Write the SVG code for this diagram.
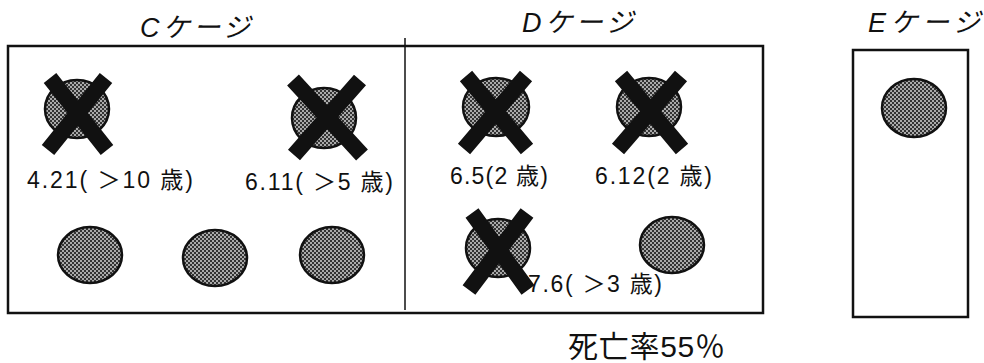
<svg xmlns="http://www.w3.org/2000/svg" width="984" height="363" viewBox="0 0 984 363">
<style>
.box{fill:none;stroke:#111;stroke-width:2.5}
.div{stroke:#111;stroke-width:1.5}
.fish{fill:url(#dots);stroke:#111;stroke-width:2.5}
.x{stroke:#111;stroke-width:16;stroke-linecap:butt;fill:none}
.t{font-family:"Liberation Sans","Noto Sans CJK JP",sans-serif;font-size:23px;fill:#111}
.title{font-family:"Liberation Sans","Noto Sans CJK JP",sans-serif;font-size:27px;font-style:italic;fill:#111}
.big{font-family:"Liberation Sans","Noto Sans CJK JP",sans-serif;font-size:30px;fill:#111}
</style>
<defs>
<pattern id="dots" width="4" height="4" patternUnits="userSpaceOnUse">
<rect width="4" height="4" fill="#333"/>
<rect x="0" y="0" width="2" height="2" fill="#aaa"/>
<rect x="2" y="2" width="2" height="2" fill="#aaa"/>
</pattern>
</defs>
<rect fill="#fff" width="984" height="363"/>
<g id="cages">
<rect class="box" x="8" y="46" width="755" height="267"/>
<line class="div" x1="405" y1="38" x2="405" y2="310"/>
<rect class="box" x="853" y="50" width="115" height="267"/>
</g>
<g id="titles">
<text class="title" x="140" y="37" textLength="110" lengthAdjust="spacing">Cケージ</text>
<text class="title" x="522" y="32" textLength="111" lengthAdjust="spacing">Dケージ</text>
<text class="title" x="868" y="32" textLength="112" lengthAdjust="spacing">Eケージ</text>
</g>
<g id="c1"><ellipse class="fish" cx="77" cy="109" rx="32" ry="29"/><path class="x" d="M50 78L107 150M106 78L48 150"/><text class="t" x="27" y="188" textLength="166" lengthAdjust="spacing">4.21( ＞10 歳)</text></g>
<g id="c2"><ellipse class="fish" cx="324" cy="118" rx="32" ry="30"/><path class="x" d="M293 80L362 155M360 80L294 155"/><text class="t" x="245" y="190" textLength="148" lengthAdjust="spacing">6.11( ＞5 歳)</text></g>
<g id="c3"><ellipse class="fish" cx="90" cy="255" rx="32" ry="28"/></g>
<g id="c4"><ellipse class="fish" cx="215" cy="258" rx="32" ry="28"/></g>
<g id="c5"><ellipse class="fish" cx="332" cy="255" rx="32" ry="28"/></g>
<g id="d1"><ellipse class="fish" cx="496" cy="107" rx="33" ry="29"/><path class="x" d="M466 76L527 149M526 76L464 149"/><text class="t" x="450" y="184" textLength="98" lengthAdjust="spacing">6.5(2 歳)</text></g>
<g id="d2"><ellipse class="fish" cx="649" cy="107" rx="32" ry="29"/><path class="x" d="M621 76L682 149M681 76L618 149"/><text class="t" x="595" y="184" textLength="117" lengthAdjust="spacing">6.12(2 歳)</text></g>
<g id="d3"><ellipse class="fish" cx="498" cy="248" rx="32" ry="29"/><path class="x" d="M472 213L528 290M527 213L469 290"/><text class="t" x="528" y="292" textLength="134" lengthAdjust="spacing">7.6( ＞3 歳)</text></g>
<g id="d4"><ellipse class="fish" cx="672" cy="245" rx="32" ry="28"/></g>
<g id="e1"><ellipse class="fish" cx="914" cy="108" rx="32" ry="29"/></g>
<g id="rate"><text class="big" x="568" y="357" textLength="157" lengthAdjust="spacing">死亡率55％</text></g>
<g id="connectors"/>
</svg>
